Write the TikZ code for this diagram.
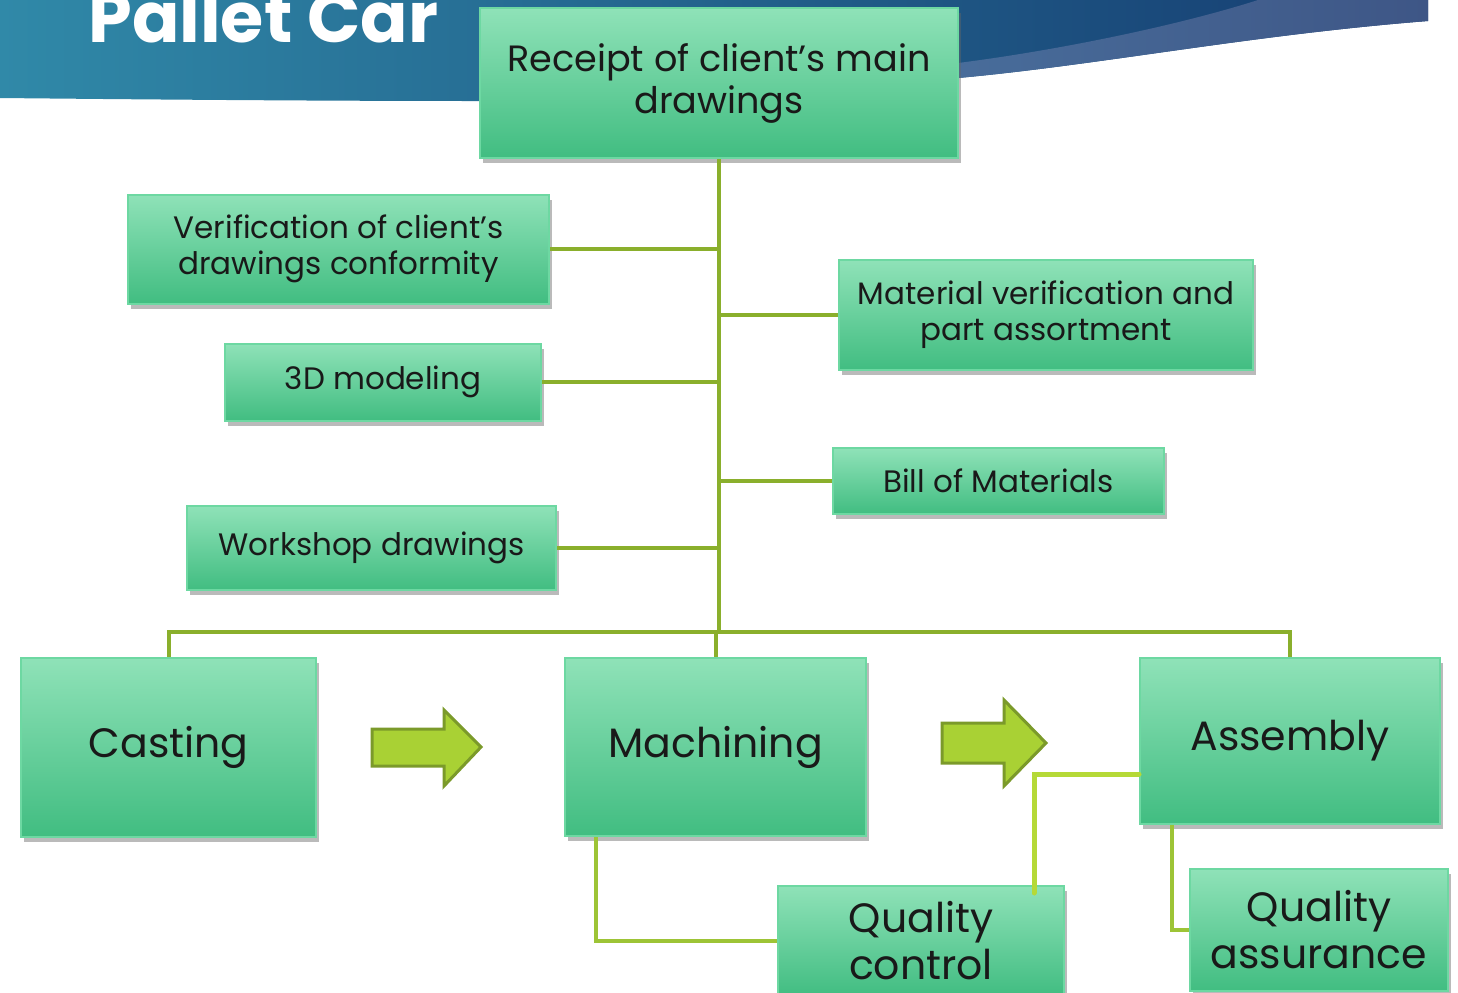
\documentclass[tikz,border=0pt]{standalone}
\usepackage{fontspec}
\setmainfont{Poppins}
\usetikzlibrary{positioning,shadows}

\definecolor{boxtop}{HTML}{8FE2B8}
\definecolor{boxbot}{HTML}{41BD81}
\definecolor{boxline}{HTML}{6DD8A2}
\definecolor{linkc}{HTML}{8AAF2C}
\definecolor{qcline}{HTML}{9DC436}
\definecolor{qcline2}{HTML}{B5D937}
\definecolor{arrowfill}{HTML}{A9D134}
\definecolor{arrowline}{HTML}{7B9A2A}
\definecolor{bannerL}{HTML}{3089A8}
\definecolor{bannerM}{HTML}{22608F}
\definecolor{bannerR}{HTML}{153B70}
\definecolor{swooshL}{HTML}{4C75A2}
\definecolor{swooshR}{HTML}{3E5686}

\begin{document}
\begin{tikzpicture}[x=0.5pt,y=-0.5pt,every text node part/.style={align=center}]

\tikzstyle{box} = [rectangle,draw=boxline,line width=1pt,top color=boxtop,bottom color=boxbot,inner sep=0,text=black!90,drop shadow={shadow xshift=1.5pt,shadow yshift=-2.5pt,opacity=0.45,fill=black!60}]
\tikzstyle{small} = [font=\fontsize{15.5}{18}\selectfont]
\tikzstyle{big} = [font=\fontsize{20.5}{23.5}\selectfont]
\tikzstyle{link} = [draw=linkc,line width=2pt]
\tikzstyle{qclink} = [draw=qcline,line width=2pt]
\tikzstyle{qclink2} = [draw=qcline2,line width=2.5pt,line cap=round]
\tikzstyle{blockarrow} = [draw=arrowline,fill=arrowfill,line width=1.5pt,line join=miter]

\useasboundingbox (0,0) rectangle (1458,992);
\clip (0,0) rectangle (1458,992);

\shade[left color=bannerL,middle color=bannerM,right color=bannerR] (0,0) -- (1428,0) -- (1428,21) .. controls (1250,35) and (1100,65) .. (958,78) .. controls (800,92) and (600,101) .. (480,101) .. controls (300,101) and (100,99) .. (0,98) -- cycle;
\shade[left color=swooshL,right color=swooshR] (1258,0) -- (1428,0) -- (1428,21) .. controls (1250,35) and (1100,65) .. (958,78) .. controls (900,84) and (850,88) .. (780,92) .. controls (850,85) and (900,72) .. (958,63) .. controls (1060,50) and (1180,25) .. (1258,0) -- cycle;
\node[anchor=base west,inner sep=0,text=white,font=\bfseries\fontsize{35}{40}\selectfont] (title) at (88,42) {Pallet Car};

\node[box, minimum width=239pt, minimum height=75pt, font=\fontsize{18.3}{21}\selectfont] (receipt) at (719,83) {Receipt of client’s main\\drawings};

\node[box, small, minimum width=210.5pt, minimum height=54.5pt] (verify) at (338.5,249) {Verification of client’s\\drawings conformity};
\node[box, small, minimum width=158pt, minimum height=38.5pt] (model) at (383,382) {3D modeling};
\node[box, small, minimum width=184.5pt, minimum height=42pt] (workshop) at (371.5,548) {Workshop drawings};

\node[box, small, minimum width=207pt, minimum height=55pt] (material) at (1046,315) {Material verification and\\part assortment};
\node[box, small, minimum width=165.5pt, minimum height=33pt] (bom) at (998.5,481) {Bill of Materials};

\coordinate (bus) at (719,632);

\draw[link] (receipt.south) -- (bus);
\draw[link] (verify.east) -- (verify.east -| bus);
\draw[link] (model.east) -- (model.east -| bus);
\draw[link] (workshop.east) -- (workshop.east -| bus);
\draw[link] (material.west) -- (material.west -| bus);
\draw[link] (bom.west) -- (bom.west -| bus);

\node[box, big, minimum width=147.5pt, minimum height=89.5pt] (casting) at (168.5,747) {Casting};
\node[box, big, minimum width=150.5pt, minimum height=89pt] (machining) at (715.5,747) {Machining};
\node[box, big, minimum width=150pt, minimum height=83pt] (assembly) at (1290,741) {Assembly};

\draw[link] (casting.north) |- (bus) -| (assembly.north);
\draw[link] (machining.north) -- (machining.north |- bus);

\node[box, big, minimum width=143pt, minimum height=55pt] (qc) at (921,941) {Quality\\control};
\node[box, big, minimum width=129pt, minimum height=61pt] (qa) at (1319,930) {Quality\\assurance};

\draw[qclink] ([xshift=-60pt]machining.south) |- (qc.west);
\draw[qclink2] ([xshift=56.5pt,yshift=-4pt]qc.north) |- ([yshift=-16.5pt]assembly.west);
\draw[qclink] ([xshift=-59pt]assembly.south) |- (qa.west);

\draw[blockarrow] (372,729) -- (444,729) -- (444,710) -- (481,747) -- (444,786) -- (444,766) -- (372,766) -- cycle;
\draw[blockarrow] (942,723) -- (1004,723) -- (1004,700) -- (1046,743) -- (1004,786) -- (1004,763) -- (942,763) -- cycle;

\end{tikzpicture}
\end{document}
